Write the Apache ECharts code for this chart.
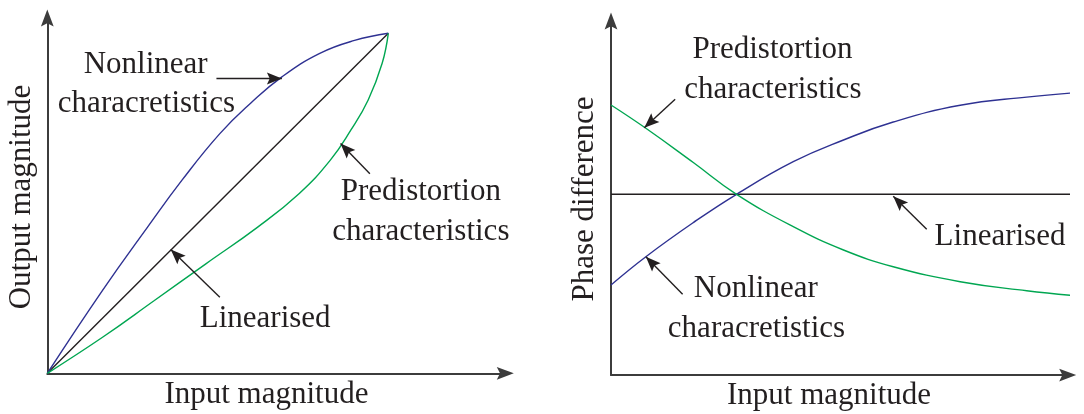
<!DOCTYPE html>
<html>
<head>
<meta charset="utf-8">
<script src="https://cdn.jsdelivr.net/npm/echarts@6/dist/echarts.min.js"></script>
<style>
  html, body { margin: 0; padding: 0; background: #ffffff; }
  #chart { width: 1084px; height: 414px; }
</style>
</head>
<body>
<div id="chart"></div>
<script>
// ---- Magnitude panel (input magnitude normalised to 1 at saturation) ----
const ampInput      = [0, 0.162, 0.294, 0.395, 0.506, 0.597, 0.688, 0.799, 0.901, 1];
const ampNonlinear  = [0, 0.244, 0.430, 0.568, 0.705, 0.795, 0.872, 0.941, 0.979, 1];
const ampPreInput   = [0, 0.162, 0.314, 0.465, 0.617, 0.739, 0.830, 0.890, 0.941, 0.982, 1];
const ampPredist    = [0, 0.106, 0.214, 0.322, 0.430, 0.529, 0.627, 0.715, 0.804, 0.912, 1];
const ampLinearIn   = [0, 1];
const ampLinearOut  = [0, 1];

// ---- Phase panel (phase relative to the linearised level) ----
const phInput       = [0, 0.075, 0.177, 0.270, 0.392, 0.500, 0.607, 0.751, 0.894, 0.998];
const phNonlinear   = [-0.907, -0.624, -0.283, 0, 0.326, 0.543, 0.723, 0.890, 0.972, 1.016];
const phPredist     = [0.893, 0.660, 0.318, 0, -0.324, -0.557, -0.724, -0.874, -0.964, -1.014];
const phLinearIn    = [0, 1.017];
const phLinearOut   = [0, 0];

// annotation arrows: [fromX, fromY, toX, toY] in each panel's data units
const ampArrows = {
  nonlinear: [0.496, 0.867, 0.688, 0.867],
  predist:   [0.946, 0.587, 0.860, 0.676],
  linear:    [0.506, 0.224, 0.362, 0.364]
};
const phArrows = {
  predist:   [0.138, 0.950, 0.0716, 0.666],
  linear:    [0.679, -0.350, 0.607, -0.020],
  nonlinear: [0.154, -1.000, 0.075, -0.624]
};

const BLUE = '#2e3192';
const GREEN = '#00a651';
const INK = '#231f20';
const AXIS = '#3c3c3c';
const ARROW = 'path://M0,0L6,16L0,13L-6,16Z';
const FS = 31;
const FONT = FS + 'px "Liberation Serif", "DejaVu Serif", serif';

const zip = (xs, ys) => xs.map((x, i) => [x, ys[i]]);

function arrowLines(arrows) {
  return Object.keys(arrows).map(k => {
    const a = arrows[k];
    return [
      { coord: [a[0], a[1]], symbol: 'none' },
      { coord: [a[2], a[3]], symbol: ARROW, symbolSize: [12, 15], symbolOffset: [0, '50%'] }
    ];
  });
}

function axisPair(gridIndex, xMax, yMin, yMax) {
  const common = {
    type: 'value',
    gridIndex: gridIndex,
    axisLine: {
      show: true, onZero: false,
      symbol: ['none', ARROW], symbolSize: [13, 17],
      lineStyle: { color: AXIS, width: 2 }
    },
    axisTick: { show: false },
    axisLabel: { show: false },
    splitLine: { show: false }
  };
  return {
    x: Object.assign({}, common, { min: 0, max: xMax }),
    y: Object.assign({}, common, { min: yMin, max: yMax })
  };
}

const ampAxes = axisPair(0, 1.3431, 0, 1.045);
const phAxes = axisPair(1, 0.9822, -1.807, 1.733);

function curve(name, gi, data, color, extra) {
  return Object.assign({
    name: name, type: 'line', xAxisIndex: gi, yAxisIndex: gi,
    data: data, showSymbol: false, smooth: 0.45, clip: false,
    lineStyle: { color: color, width: 1.4 }, silent: true, z: 3
  }, extra || {});
}

function markArrows(arrows) {
  return {
    markLine: {
      silent: true, animation: false,
      symbol: ['none', ARROW],
      label: { show: false },
      lineStyle: { color: INK, width: 1.4, type: 'solid' },
      emphasis: { disabled: true },
      data: arrowLines(arrows)
    }
  };
}

function label(text, cx, baseline, rotate) {
  const off = FS * 0.31;
  const el = {
    type: 'text',
    style: {
      text: text, font: FONT, fill: INK,
      textAlign: 'center', textVerticalAlign: 'middle', verticalAlign: 'middle'
    },
    z: 10
  };
  if (rotate) {
    el.x = cx; el.y = baseline; el.rotation = Math.PI / 2;
  } else {
    el.x = cx; el.y = baseline - off;
  }
  return el;
}

const chart = echarts.init(document.getElementById('chart'), null, { renderer: 'canvas' });
chart.setOption({
  animation: false,
  backgroundColor: '#ffffff',
  grid: [
    { left: 47.3, top: 18, width: 458, height: 355.3 },
    { left: 611, top: 21, width: 456.7, height: 354 }
  ],
  xAxis: [ampAxes.x, phAxes.x],
  yAxis: [ampAxes.y, phAxes.y],
  series: [
    curve('Linearised', 0, zip(ampLinearIn, ampLinearOut), INK, Object.assign({ smooth: false }, markArrows(ampArrows))),
    curve('Nonlinear', 0, zip(ampInput, ampNonlinear), BLUE),
    curve('Predistortion', 0, zip(ampPreInput, ampPredist), GREEN),
    curve('Linearised phase', 1, zip(phLinearIn, phLinearOut), INK, Object.assign({ smooth: false }, markArrows(phArrows))),
    curve('Nonlinear phase', 1, zip(phInput, phNonlinear), BLUE),
    curve('Predistortion phase', 1, zip(phInput, phPredist), GREEN)
  ],
  graphic: [
    label('Nonlinear', 145.7, 74),
    label('characretistics', 146.5, 113.4),
    label('Predistortion', 420.8, 201.3),
    label('characteristics', 420.8, 241),
    label('Linearised', 265.2, 328.9),
    label('Input magnitude', 266.4, 404),
    label('Output magnitude', 21.5, 197, true),
    label('Predistortion', 772.5, 59.3),
    label('characteristics', 772.8, 99.3),
    label('Linearised', 1000, 246),
    label('Nonlinear', 755.8, 298.3),
    label('characretistics', 756.5, 338.3),
    label('Input magnitude', 829, 405),
    label('Phase difference', 585, 199, true)
  ]
});
</script>
</body>
</html>
